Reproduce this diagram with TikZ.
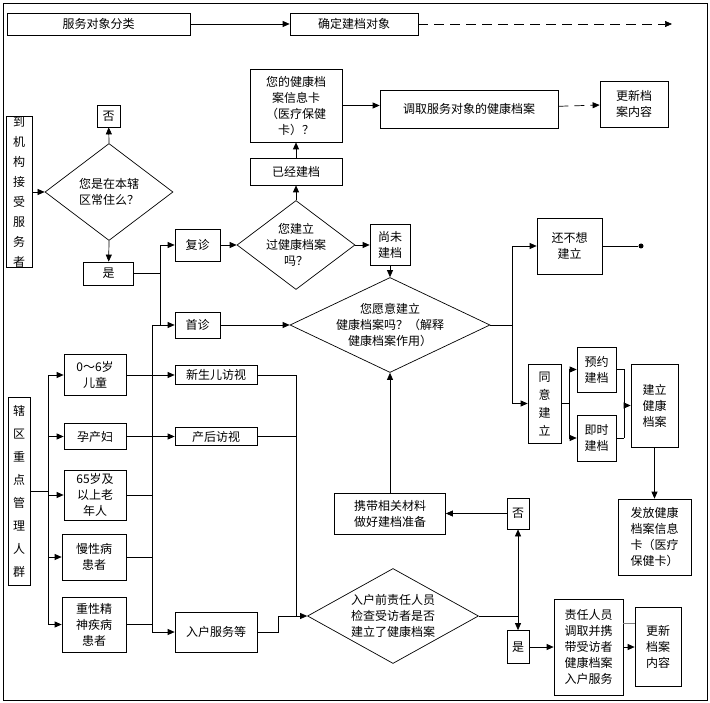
\documentclass[tikz,border=0pt]{standalone}
\usepackage{fontspec}
\setmainfont{Noto Sans CJK SC}
\usetikzlibrary{arrows.meta,shapes.geometric}
\tikzstyle{box}=[draw, rectangle, inner sep=0pt, align=center, font=\fontsize{12}{16}\selectfont]
\tikzstyle{vbox}=[draw, rectangle, inner sep=0pt, align=center, font=\fontsize{12}{20}\selectfont]
\tikzstyle{dia}=[draw, diamond, inner sep=0pt]
\tikzstyle{txt}=[align=center, font=\fontsize{12}{16}\selectfont]
\tikzstyle{arr}=[-{Triangle[length=7pt,width=6pt]}]
\tikzstyle{jn}=[inner sep=0pt]

\begin{document}
\begin{tikzpicture}[x=1pt, y=-1pt, line width=0.7pt]
\useasboundingbox (0,0) rectangle (710,703);
\draw (3,3) rectangle (707,700);
% top row
\node[box, minimum width=183, minimum height=22] (Cls) at (98.5,24) {服务对象分类};
\node[box, minimum width=128, minimum height=22] (Obj) at (354,24) {确定建档对象};
\coordinate (ObjEnd) at (672,24);
% left part
\node[vbox, minimum width=26, minimum height=145] (Arrive) at (19,192) {到\\机\\构\\接\\受\\服\\务\\者};
\node[dia, minimum width=128, minimum height=97] (Live) at (109,192) {};
\node[txt] at (Live) {您是在本辖\\区常住么？};
\node[box, minimum width=23, minimum height=22] (No1) at (108.5,116) {否};
\node[box, minimum width=50, minimum height=23] (Yes1) at (108.5,273.5) {是};
\node[box, minimum width=45, minimum height=32] (Fu) at (197.5,245) {复诊};
\node[box, minimum width=45, minimum height=26] (Shou) at (197.5,325) {首诊};
% upper middle
\node[dia, minimum width=118, minimum height=89] (Had) at (296,245) {};
\node[txt] at (Had) {您建立\\过健康档案\\吗？};
\node[box, minimum width=92, minimum height=27] (Done) at (296,171.5) {已经建档};
\node[box, minimum width=92, minimum height=73] (Card) at (296,105.5) {您的健康档\\案信息卡\\（医疗保健\\卡）？};
\node[box, minimum width=178, minimum height=38] (Fetch) at (469,109) {调取服务对象的健康档案};
\node[box, minimum width=68, minimum height=46] (Upd1) at (634,104) {更新档\\案内容};
\node[box, minimum width=40, minimum height=41] (NotYet) at (390,245) {尚未\\建档};
\node[dia, minimum width=200, minimum height=95] (Want) at (390,325) {};
\node[txt] at (Want) {您愿意建立\\健康档案吗？（解释\\健康档案作用）};
% right part
\node[box, minimum width=65, minimum height=56] (NoWant) at (569.5,246) {还不想\\建立};
\node[fill, circle, inner sep=0pt, minimum size=5pt] (Dot) at (641,246) {};
\node[vbox, font=\fontsize{12}{18}\selectfont, minimum width=33, minimum height=79] (Agree) at (544.5,403.5) {同\\意\\建\\立};
\node[box, minimum width=39, minimum height=45] (Appt) at (596.5,369.5) {预约\\建档};
\node[box, minimum width=39, minimum height=46] (Now) at (596.5,438) {即时\\建档};
\node[box, minimum width=47, minimum height=83] (Build) at (654.5,405.5) {建立\\健康\\档案};
\node[box, minimum width=73, minimum height=76] (Card2) at (654.5,537) {发放健康\\档案信息\\卡（医疗\\保健卡）};
% lower middle
\node[box, minimum width=111, minimum height=41] (Carry) at (390,513.5) {携带相关材料\\做好建档准备};
\node[box, minimum width=22, minimum height=31] (No2) at (518,513.5) {否};
\node[dia, minimum width=171, minimum height=95] (Check) at (393,616) {};
\node[txt] at (Check) {入户前责任人员\\检查受访者是否\\建立了健康档案};
\node[box, minimum width=22, minimum height=33] (Yes2) at (518,647) {是};
\node[box, minimum width=69, minimum height=96] (Resp) at (588.5,647) {责任人员\\调取并携\\带受访者\\健康档案\\入户服务};
\node[box, minimum width=46, minimum height=79] (Upd2) at (658,647) {更新\\档案\\内容};
% key groups
\node[vbox, font=\fontsize{12}{23}\selectfont, minimum width=22, minimum height=188] (Key) at (19,491) {辖\\区\\重\\点\\管\\理\\人\\群};
\node[box, minimum width=62, minimum height=41] (Kid) at (95,375) {0～6岁\\儿童};
\node[box, minimum width=62, minimum height=26] (Preg) at (95,436.5) {孕产妇};
\node[box, minimum width=62, minimum height=50] (Old) at (95,495) {65岁及\\以上老\\年人};
\node[box, minimum width=64, minimum height=46] (Chr) at (94,557) {慢性病\\患者};
\node[box, minimum width=64, minimum height=55] (Ment) at (94,624.5) {重性精\\神疾病\\患者};
\node[box, minimum width=82, minimum height=19] (Baby) at (216,375) {新生儿访视};
\node[box, minimum width=82, minimum height=18] (Post) at (216,436.5) {产后访视};
\node[box, minimum width=82, minimum height=40] (Home) at (216,632) {入户服务等};
% junctions
\coordinate (J1) at (160,273.5);
\coordinate (Bt) at (152,325);
\coordinate (Bb) at (152,632);
\coordinate (J2) at (512,325);
\coordinate (J3) at (569,403.5);
\coordinate (J4) at (624,438);
\coordinate (J5) at (624,405.5);
\coordinate (J6) at (48,491);
\coordinate (J7) at (296,616);
\coordinate (J8) at (518,616);
\coordinate (Step) at (278,632);
% connectors
\draw[arr] (Cls) -- (Obj);
\draw[arr, dashed, dash pattern=on 10pt off 6pt] (Obj) -- (ObjEnd);
\draw[arr] (Arrive) -- (Live);
\draw[arr] (Live.north) -- (No1);
\draw[arr] (Live.south) -- (Yes1);
\draw (Yes1) -- (J1);
\draw[arr] (J1) |- (Fu);
\draw[arr] (J1) |- (Shou);
\draw[arr] (Fu) -- (Had);
\draw[arr] (Had.north) -- (Done);
\draw[arr] (Done) -- (Card);
\draw[arr] (Card.east) -- (Card.east -| Fetch.west);
\draw[arr, dashed, dash pattern=on 10pt off 6pt] (Fetch) -- (Upd1);
\draw[arr] (Had.east) -- (NotYet);
\draw[arr] (NotYet) -- (Want.north);
\draw[arr] (Shou) -- (Want.west);
\draw (Want.east) -- (J2);
\draw[arr] (J2) |- (NoWant);
\draw[arr] (J2) |- (Agree);
\draw (NoWant) -- (Dot);
\draw (Agree) -- (J3);
\draw[arr] (J3) |- (Appt);
\draw[arr] (J3) |- (Now);
\draw (Appt) -| (J4);
\draw (Now) -- (J4);
\draw[arr] (J5) -- (Build);
\draw[arr] (Build) -- (Card2);
\draw (Key) -- (J6);
\draw[arr] (J6) |- (Kid);
\draw[arr] (J6) |- (Preg);
\draw[arr] (J6) |- (Old);
\draw[arr] (J6) |- (Chr);
\draw[arr] (J6) |- (Ment);
\draw[arr] (Kid) -- (Baby);
\draw[arr] (Preg) -- (Post);
\draw (Bt) -- (Bt -| J1);
\draw (Bt) -- (Bb);
\draw (Old) -- (Old -| Bb);
\draw (Chr) -- (Chr -| Bb);
\draw (Ment) -- (Ment -| Bb);
\draw[arr] (Bb) -- (Home);
\draw (Baby) -| (J7);
\draw (Post) -- (Post -| J7);
\draw (Home) -- (Step) |- (J7);
\draw[arr] (J7) -- (Check.west);
\draw (Check.east) -- (J8);
\draw[arr] (J8) -- (No2);
\draw[arr] (J8) -- (Yes2);
\draw[arr] (No2) -- (Carry);
\draw[arr] (Carry) -- (Want.south);
\draw[arr] (Yes2) -- (Resp);
\draw[arr] (Resp) -- (Upd2);
\draw[gray] ([yshift=24pt]Resp.east) -- ([yshift=24pt]Resp.east -| Upd2.west);
\end{tikzpicture}
\end{document}
